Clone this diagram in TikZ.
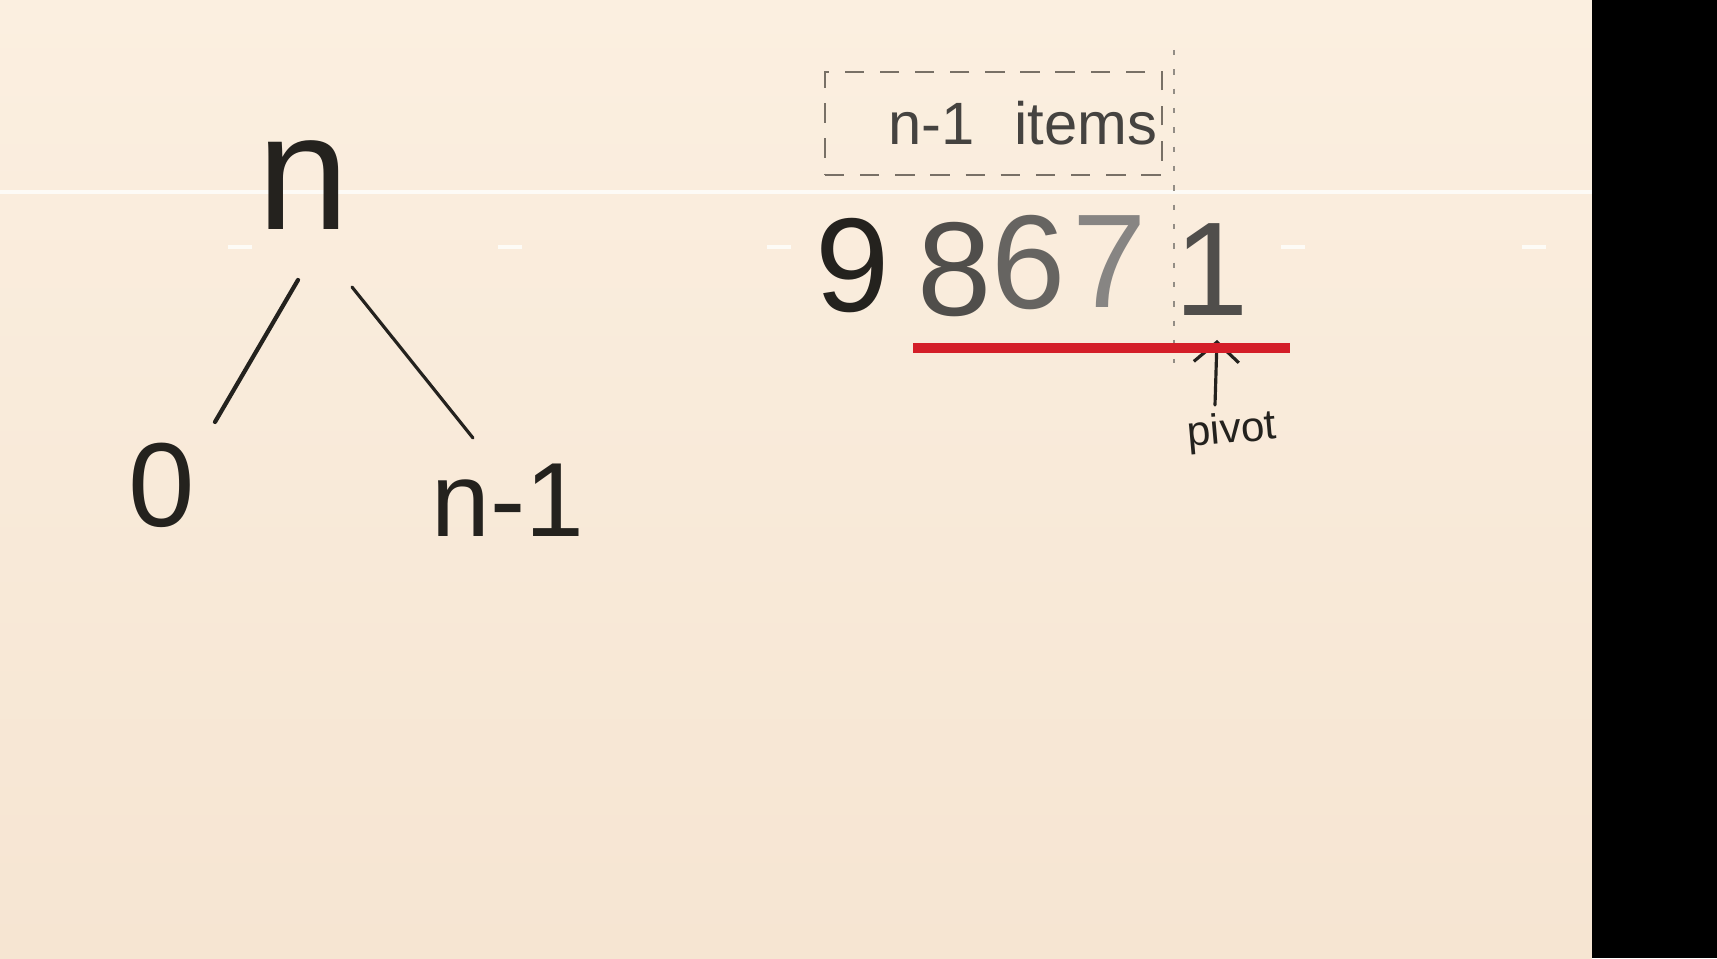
\documentclass[tikz,border=0pt]{standalone}
\usepackage{fontspec}
\setmainfont{Liberation Sans}
\usetikzlibrary{arrows.meta,calc}
\definecolor{BoardTop}{RGB}{251,239,224}
\definecolor{BoardBottom}{RGB}{246,229,210}
\definecolor{BoardSeam}{RGB}{253,251,246}
\definecolor{MarkerInk}{RGB}{36,34,30}
\definecolor{MarkerGray}{RGB}{120,112,102}
\definecolor{OverlayRed}{RGB}{212,30,40}

\begin{document}
\begin{tikzpicture}[>={Straight Barb[length=2mm,width=4.5mm]},
  ink/.style={text=MarkerInk,inner sep=0pt},
  edge/.style={draw=MarkerInk,line width=1.2pt,line cap=round},
  digit/.style={ink,font=\fontsize{38}{46}\selectfont},
  itembox/.style={draw=MarkerGray,dash pattern=on 5.5pt off 4.5pt,line width=0.7pt,
    minimum width=3.37cm,minimum height=1.03cm,text width=3.27cm,align=right,
    inner sep=0.05cm,font=\fontsize{17}{20}\selectfont,text=MarkerInk!85}]
\useasboundingbox (0,0) rectangle (17.17,9.58);
\shade[top color=BoardTop,bottom color=BoardBottom] (0,0) rectangle (15.92,9.58);
\fill[black] (15.92,0) rectangle (17.17,9.58);
% board seam
\draw[BoardSeam,line width=1.3pt] (0,7.66) -- (15.92,7.66);
\foreach \x in {2.28,4.98,7.67,12.81,15.22}
  \draw[BoardSeam,line width=1.1pt] (\x,7.11) -- ++(0.24,0);

% recursion tree
\node[ink,font=\fontsize{47}{56}\selectfont] (root) at (3.03,7.73) {n};
\node[ink,font=\fontsize{34}{40}\selectfont] (zero) at (1.62,4.73) {0};
\node[ink,font=\fontsize{30}{36}\selectfont] (nminus) at (5.08,4.58) {n-1};
\draw[edge] ($(root)+(-0.05,-0.95)$) -- ($(zero)+(0.53,0.63)$);
\draw[edge,line width=0.9pt] ($(root)+(0.49,-1.02)$) -- ($(nminus)+(-0.35,0.62)$);

% array and pivot
\node[itembox] (items) at (9.935,8.345) {n-1 \ items};
\node[digit] (nine) at (8.53,6.92) {9};
\node[digit,text=MarkerInk!80] (eight) at (9.55,6.88) {8};
\node[digit,text=MarkerInk!70] (six) at (10.29,6.95) {6};
\node[digit,text=MarkerInk!55] (seven) at (11.10,6.96) {7};
\node[digit,text=MarkerInk!80] (one) at (12.12,6.88) {1};
\draw[MarkerGray!80,line width=0.8pt,dash pattern=on 1.5pt off 4pt] (11.74,9.08) -- (11.74,5.95);
\node[ink,font=\fontsize{12}{14}\selectfont,rotate=5] (pivot) at (12.32,5.26) {pivot};
\draw[edge,->,line width=0.9pt] ($(pivot)+(-0.17,0.27)$) -- ($(one)+(0.05,-0.70)$);
\draw[OverlayRed,line width=2.6pt] (9.13,6.10) -- (12.90,6.10);
\end{tikzpicture}
\end{document}
